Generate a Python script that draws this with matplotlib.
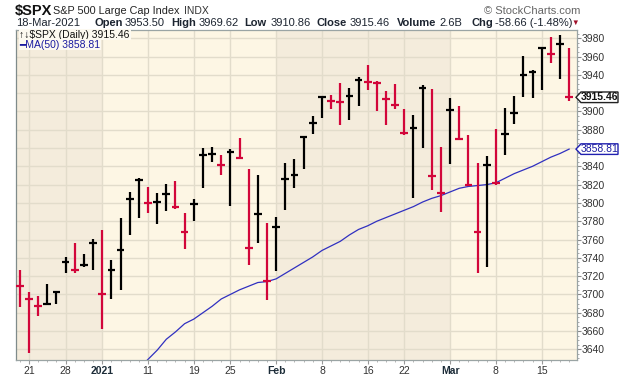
import matplotlib
matplotlib.use('Agg')

import numpy as np
import matplotlib.pyplot as plt
from matplotlib.patches import Polygon
from matplotlib.transforms import IdentityTransform
from matplotlib.ticker import FixedLocator, MultipleLocator

# daily bars, 18 Dec 2020 .. 18 Mar 2021
dates = ['2020-12-18', '2020-12-21', '2020-12-22', '2020-12-23', '2020-12-24',
         '2020-12-28', '2020-12-29', '2020-12-30', '2020-12-31',
         '2021-01-04', '2021-01-05', '2021-01-06', '2021-01-07', '2021-01-08',
         '2021-01-11', '2021-01-12', '2021-01-13', '2021-01-14', '2021-01-15',
         '2021-01-19', '2021-01-20', '2021-01-21', '2021-01-22',
         '2021-01-25', '2021-01-26', '2021-01-27', '2021-01-28', '2021-01-29',
         '2021-02-01', '2021-02-02', '2021-02-03', '2021-02-04', '2021-02-05',
         '2021-02-08', '2021-02-09', '2021-02-10', '2021-02-11', '2021-02-12',
         '2021-02-16', '2021-02-17', '2021-02-18', '2021-02-19',
         '2021-02-22', '2021-02-23', '2021-02-24', '2021-02-25', '2021-02-26',
         '2021-03-01', '2021-03-02', '2021-03-03', '2021-03-04', '2021-03-05',
         '2021-03-08', '2021-03-09', '2021-03-10', '2021-03-11', '2021-03-12',
         '2021-03-15', '2021-03-16', '2021-03-17', '2021-03-18']

highs = [3726.70, 3702.90, 3698.26, 3711.24, 3703.82,
         3740.51, 3756.12, 3744.63, 3760.20,
         3769.99, 3737.83, 3783.04, 3811.55, 3826.69,
         3817.86, 3810.78, 3820.96, 3823.60, 3788.73,
         3804.53, 3859.75, 3861.45, 3852.31,
         3859.23, 3870.90, 3836.83, 3830.50, 3778.05,
         3784.32, 3843.09, 3847.51, 3872.42, 3894.56,
         3915.77, 3918.35, 3931.50, 3925.99, 3937.23,
         3950.43, 3933.61, 3921.98, 3930.41,
         3902.92, 3895.98, 3928.65, 3925.02, 3861.08,
         3914.50, 3906.41, 3874.47, 3843.67, 3851.69,
         3881.06, 3903.76, 3917.35, 3960.27, 3944.99,
         3970.08, 3981.04, 3983.87, 3969.62]

lows = [3685.84, 3636.48, 3676.16, 3689.28, 3689.32,
        3723.03, 3723.31, 3730.21, 3726.88,
        3662.71, 3695.07, 3705.34, 3764.71, 3783.60,
        3789.02, 3776.51, 3791.50, 3792.86, 3749.62,
        3780.37, 3816.22, 3845.05, 3830.41,
        3797.16, 3847.78, 3732.48, 3755.75, 3694.12,
        3725.62, 3791.84, 3816.68, 3836.66, 3874.93,
        3892.59, 3902.64, 3884.94, 3890.39, 3905.78,
        3923.85, 3900.43, 3885.03, 3903.07,
        3874.71, 3805.59, 3859.60, 3814.04, 3789.54,
        3842.51, 3868.57, 3818.86, 3723.34, 3730.19,
        3819.25, 3851.93, 3885.73, 3915.54, 3915.21,
        3923.54, 3953.44, 3935.74, 3910.86]

closes = [3709.41, 3694.92, 3687.26, 3690.01, 3703.06,
          3735.36, 3727.04, 3732.04, 3756.07,
          3700.65, 3726.86, 3748.14, 3803.79, 3824.68,
          3799.61, 3801.19, 3809.84, 3795.54, 3768.25,
          3798.91, 3851.85, 3853.07, 3841.47,
          3855.36, 3849.62, 3750.77, 3787.38, 3714.24,
          3773.86, 3826.31, 3830.17, 3871.74, 3886.83,
          3915.59, 3911.23, 3909.88, 3916.38, 3934.83,
          3932.59, 3931.33, 3913.97, 3906.71,
          3876.50, 3881.37, 3925.43, 3829.34, 3811.15,
          3901.82, 3870.29, 3819.72, 3768.47, 3841.94,
          3821.35, 3875.44, 3898.81, 3939.34, 3943.34,
          3968.94, 3962.71, 3974.12, 3915.46]

prev_close = 3722.48  # 17 Dec 2020

# MA(50), from 8 Jan 2021 onwards
ma_first = 13
ma50 = [3619, 3629, 3639, 3651, 3659, 3668, 3673, 3680, 3687, 3695,
        3700, 3705, 3709, 3713, 3714, 3717, 3723, 3729, 3735, 3741,
        3748, 3753, 3758, 3765, 3771, 3775, 3780, 3784, 3788, 3792,
        3796, 3801, 3805, 3808, 3812, 3816, 3818, 3819, 3820, 3822,
        3827, 3832, 3836, 3840, 3845, 3850, 3854, 3858.81]

tick_labels = {'2020-12-21': '21', '2020-12-28': '28', '2021-01-04': '2021',
               '2021-01-11': '11', '2021-01-19': '19', '2021-01-25': '25',
               '2021-02-01': 'Feb', '2021-02-08': '8', '2021-02-16': '16',
               '2021-02-22': '22', '2021-03-01': 'Mar', '2021-03-08': '8',
               '2021-03-15': '15'}
bold_labels = ['2021', 'Feb', 'Mar']
price_ticks = list(range(3640, 3981, 20))

RED = '#d2063a'
BG_LIGHT = '#fdf6e4'
BG_DARK = '#f4ecdc'
GRID = '#e2dccb'
MA_COL = '#3030c0'
FONT = ['Liberation Sans', 'DejaVu Sans']

plt.rcParams['font.family'] = FONT

fig = plt.figure(figsize=(6.2, 3.76), dpi=100)
ax = fig.add_axes([16 / 620, 16 / 376, 561 / 620, 330 / 376])
ax.set_facecolor(BG_LIGHT)

x = np.arange(len(dates))
ax.set_xlim(-0.42, len(dates) - 0.14)
ax.set_ylim(3628.3, 3989)

# shaded months (Dec, Feb)
months = [d[:7] for d in dates]
first_of_month = [i for i in range(1, len(dates)) if months[i] != months[i - 1]]
edges = [-0.42] + first_of_month + [len(dates) - 0.14]
for k in range(len(edges) - 1):
    if k % 2 == 0:
        ax.axvspan(edges[k], edges[k + 1], color=BG_DARK, lw=0, zorder=0)

# grid
tick_pos = [dates.index(d) for d in tick_labels]
for p in tick_pos:
    ax.axvline(p, color=GRID, lw=1, zorder=1)
for v in price_ticks:
    ax.axhline(v, color=GRID, lw=1, zorder=1)

# bars
prev = [prev_close] + closes[:-1]
cols = [RED if c < p else 'black' for c, p in zip(closes, prev)]
ax.vlines(x, lows, highs, colors=cols, lw=1.6, zorder=3)
ax.hlines(closes, x - 0.42, x + 0.42, colors=cols, lw=1.6, zorder=3)

# moving average
ax.plot(np.arange(ma_first, ma_first + len(ma50)), ma50, color=MA_COL, lw=0.9, zorder=2)

# axes styling
for s in ax.spines.values():
    s.set_color('#9aa4a4')
    s.set_linewidth(0.9)
ax.spines['left'].set_color('#7f8b8b')

# price labels hidden behind the right-hand tags are left blank
tagged = [closes[-1], ma50[-1]]
ylabels = ['' if min(abs(v - t) for t in tagged) < 8 else str(v) for v in price_ticks]

ax.yaxis.tick_right()
ax.set_yticks(price_ticks)
ax.set_yticklabels(ylabels)
ax.yaxis.set_minor_locator(MultipleLocator(5))
ax.tick_params(axis='y', which='major', length=3, width=0.8, color='#888888',
               pad=0.5, labelsize=7.5, labelcolor='#333333')
ax.tick_params(axis='y', which='minor', length=1.5, width=0.6, color='#999999')

ax.set_xticks(tick_pos)
ax.set_xticklabels(list(tick_labels.values()))
ax.xaxis.set_minor_locator(FixedLocator(x))
ax.tick_params(axis='x', which='major', length=3, width=0.8, color='#999999',
               pad=1.5, labelsize=7.5, labelcolor='#333333')
ax.tick_params(axis='x', which='minor', length=1.5, width=0.6, color='#aaaaaa')
for lab in ax.get_xticklabels():
    if lab.get_text() in bold_labels:
        lab.set_fontweight('bold')
        lab.set_color('#1c2c38')

# legend in the plot
ax.text(0.006, 1 - 4.5 / 330, '\u2191\u2193$SPX (Daily) %.2f' % closes[-1], transform=ax.transAxes,
        fontsize=7.5, color='#111111', va='center', ha='left', zorder=5,
        bbox=dict(facecolor='#fcf9f0', edgecolor='none', pad=0.6))
ax.text(0.006, 1 - 14.5 / 330, '\u2501MA(50) %.2f' % ma50[-1], transform=ax.transAxes,
        fontsize=7.5, color='#1a1aa0', va='center', ha='left', zorder=5,
        bbox=dict(facecolor='#fcf9f0', edgecolor='none', pad=0.6))

# price tags on the right axis
def price_tag(value, edge, text_col, weight):
    x0 = ax.transAxes.transform((1, 0))[0]
    y0 = ax.transData.transform((0, value))[1]
    pts = [(x0 - 1, y0), (x0 + 4, y0 + 5.3), (x0 + 41, y0 + 5.3),
           (x0 + 41, y0 - 5.3), (x0 + 4, y0 - 5.3)]
    fig.add_artist(Polygon(pts, closed=True, facecolor='white', edgecolor=edge,
                           lw=1, transform=IdentityTransform(), zorder=6))
    fig.text(x0 + 22.5, y0, '%.2f' % value, transform=IdentityTransform(),
             ha='center', va='center', fontsize=7.5, color=text_col,
             fontweight=weight, zorder=7)

price_tag(closes[-1], '#222222', '#111111', 'bold')
price_tag(ma50[-1], '#2020b0', '#1a1aa0', 'normal')

# header
def px(xp, yp):
    return xp / 620, 1 - yp / 376

fig.text(*px(15, 10.5), '$SPX', fontsize=10.5, fontweight='bold', color='#111111', va='center')
fig.text(*px(53, 11), 'S&P 500 Large Cap Index', fontsize=7.8, color='#222222', va='center')
fig.text(*px(184, 11), 'INDX', fontsize=7.5, color='#333333', va='center')
fig.text(*px(580, 11), '\u00a9 StockCharts.com', fontsize=8, color='#666666', va='center', ha='right')

line2 = [(16.5, '18-Mar-2021', 'normal'), (94.5, 'Open', 'bold'), (125, '3953.50', 'normal'),
         (171.5, 'High', 'bold'), (198.5, '3969.62', 'normal'), (244, 'Low', 'bold'),
         (271, '3910.86', 'normal'), (317, 'Close', 'bold'), (350, '3915.46', 'normal'),
         (396.5, 'Volume', 'bold'), (439, '2.6B', 'normal'), (471, 'Chg', 'bold'),
         (495, '-58.66 (-1.48%)', 'normal')]
for xp, s, w in line2:
    fig.text(*px(xp, 22.5), s, fontsize=8, fontweight=w, color='#1c2430', va='center')
fig.text(*px(575, 23), '\u25bc', fontsize=5.5, color='#a0102a', va='center', ha='center')

fig.savefig('out.png', dpi=100, facecolor='white')
